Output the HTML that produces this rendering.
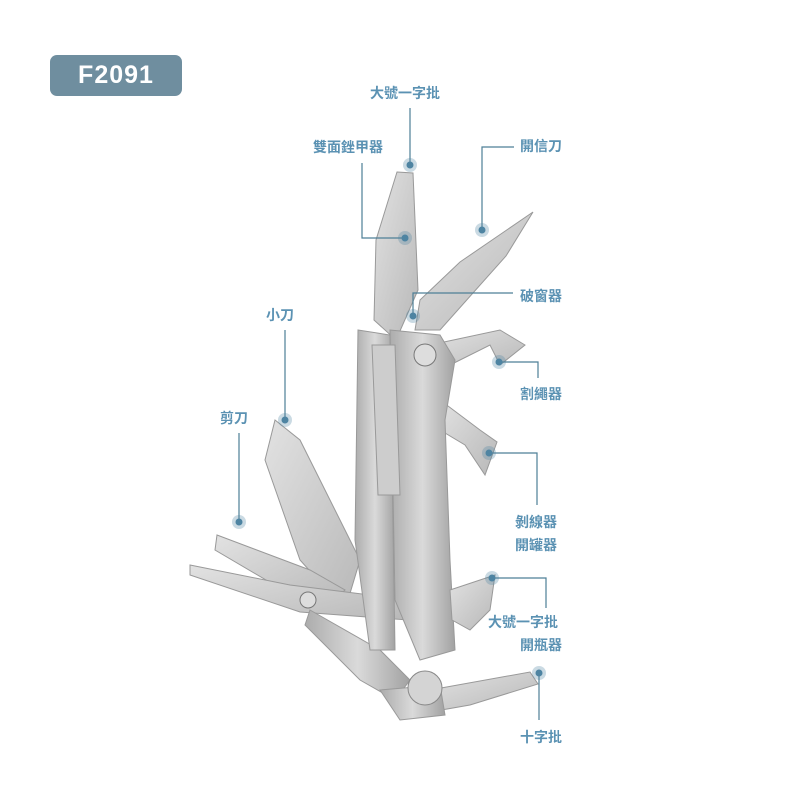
<!DOCTYPE html>
<html><head><meta charset="utf-8"><style>
html,body{margin:0;padding:0;background:#fff;}
body{width:800px;height:800px;position:relative;overflow:hidden;font-family:"Liberation Sans","Noto Sans CJK TC",sans-serif;}
.badge{position:absolute;left:50px;top:55px;width:132px;height:41px;background:#6f8e9f;border-radius:7px;color:#fff;font-weight:bold;font-size:25px;line-height:41px;text-align:center;letter-spacing:1px}
.l{position:absolute;color:#5b92b3;font-weight:bold;font-size:14px;line-height:16px;white-space:nowrap;font-family:"Liberation Sans","Noto Sans CJK TC",sans-serif}
svg{position:absolute;left:0;top:0}
</style></head><body>
<svg width="800" height="800" viewBox="0 0 800 800">
<defs>
<linearGradient id="g" x1="0" y1="0" x2="1" y2="1"><stop offset="0" stop-color="#e2e2e2"/><stop offset="1" stop-color="#b8b8b8"/></linearGradient>
<linearGradient id="h" x1="0" y1="0" x2="1" y2="0"><stop offset="0" stop-color="#acacac"/><stop offset=".5" stop-color="#dadada"/><stop offset="1" stop-color="#a2a2a2"/></linearGradient>
</defs>
<g stroke="#999" stroke-width="1">
<polygon points="397,172 413,173 418,290 396,340 374,320 376,240" fill="url(#g)"/>
<polygon points="533,212 506,256 440,330 415,330 420,300 460,262" fill="url(#g)"/>
<polygon points="430,345 500,330 525,345 500,365 490,345 440,370" fill="url(#g)"/>
<polygon points="440,400 480,430 497,442 485,475 465,445 440,430" fill="url(#g)"/>
<polygon points="275,420 300,440 360,560 345,610 300,560 265,460" fill="url(#g)"/>
<polygon points="217,535 310,570 345,590 330,605 300,600 215,550" fill="url(#g)"/>
<polygon points="190,565 290,585 410,600 408,620 300,612 190,575" fill="url(#g)"/>
<polygon points="310,610 380,650 410,680 395,700 360,680 305,625" fill="url(#h)"/>
<polygon points="358,330 390,335 395,650 370,650 355,540" fill="url(#h)"/>
<polygon points="390,330 440,335 455,360 445,420 450,560 455,650 420,660 395,600" fill="url(#h)"/>
<polygon points="372,345 395,345 400,495 378,495" fill="#cdcdcd"/>
<polygon points="450,590 495,575 490,610 470,630 452,620" fill="url(#g)"/>
<polygon points="430,690 530,672 538,684 470,705 430,712" fill="url(#g)"/>
<polygon points="380,690 440,685 445,715 400,720" fill="url(#h)"/>
</g>
<circle cx="425" cy="688" r="17" fill="#d4d4d4" stroke="#888"/>
<circle cx="425" cy="355" r="11" fill="#ddd" stroke="#777"/>
<circle cx="308" cy="600" r="8" fill="#ddd" stroke="#777"/>
<g stroke="#4e7f96" stroke-width="1.2" fill="none">
<polyline points="410,108 410,165"/>
<polyline points="362,163 362,238 405,238"/>
<polyline points="514,147 482,147 482,230"/>
<polyline points="513,293 413,293 413,316"/>
<polyline points="499,362 538,362 538,378"/>
<polyline points="489,453 537,453 537,505"/>
<polyline points="492,578 546,578 546,608"/>
<polyline points="539,673 539,720"/>
<polyline points="285,330 285,420"/>
<polyline points="239,433 239,522"/>
</g>
<g fill="#4e84a2">
<circle cx="410" cy="165" r="7" opacity=".3"/><circle cx="410" cy="165" r="3.5"/>
<circle cx="405" cy="238" r="7" opacity=".3"/><circle cx="405" cy="238" r="3.5"/>
<circle cx="482" cy="230" r="7" opacity=".3"/><circle cx="482" cy="230" r="3.5"/>
<circle cx="413" cy="316" r="7" opacity=".3"/><circle cx="413" cy="316" r="3.5"/>
<circle cx="499" cy="362" r="7" opacity=".3"/><circle cx="499" cy="362" r="3.5"/>
<circle cx="489" cy="453" r="7" opacity=".3"/><circle cx="489" cy="453" r="3.5"/>
<circle cx="492" cy="578" r="7" opacity=".3"/><circle cx="492" cy="578" r="3.5"/>
<circle cx="539" cy="673" r="7" opacity=".3"/><circle cx="539" cy="673" r="3.5"/>
<circle cx="285" cy="420" r="7" opacity=".3"/><circle cx="285" cy="420" r="3.5"/>
<circle cx="239" cy="522" r="7" opacity=".3"/><circle cx="239" cy="522" r="3.5"/>
</g>
</svg>
<div class="badge">F2091</div>
<div class="l" style="left:370px;top:85px">大號一字批</div>
<div class="l" style="left:313px;top:139px">雙面銼甲器</div>
<div class="l" style="left:520px;top:138px">開信刀</div>
<div class="l" style="left:520px;top:288px">破窗器</div>
<div class="l" style="left:520px;top:386px">割繩器</div>
<div class="l" style="left:515px;top:514px">剝線器</div>
<div class="l" style="left:515px;top:537px">開罐器</div>
<div class="l" style="left:488px;top:614px">大號一字批</div>
<div class="l" style="left:520px;top:637px">開瓶器</div>
<div class="l" style="left:520px;top:729px">十字批</div>
<div class="l" style="left:266px;top:307px">小刀</div>
<div class="l" style="left:220px;top:410px">剪刀</div>
</body></html>
